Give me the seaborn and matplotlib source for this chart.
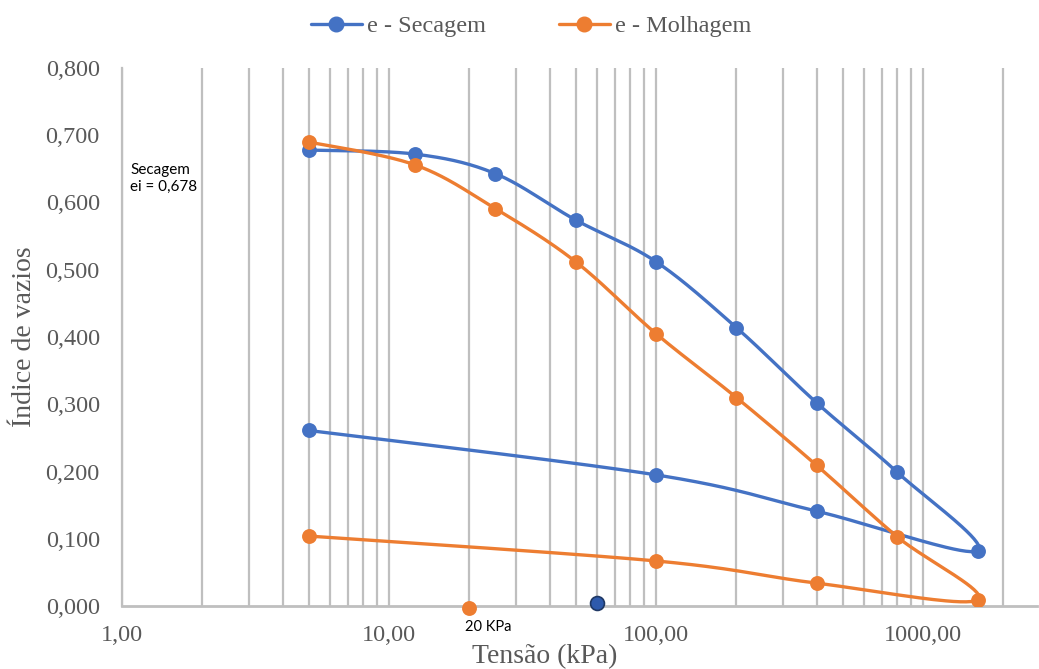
import numpy as np
import pandas as pd
import seaborn as sns
import matplotlib.pyplot as plt
from matplotlib.lines import Line2D
from matplotlib.ticker import FixedLocator, LogLocator, NullFormatter

# Tensão aplicada (kPa): carregamento seguido de descarregamento
tensao = [5, 12.5, 25, 50, 100, 200, 400, 800, 1600, 400, 100, 5]
e_secagem = [0.678, 0.672, 0.643, 0.574, 0.512, 0.414, 0.302, 0.199, 0.082, 0.141, 0.195, 0.261]
e_molhagem = [0.690, 0.656, 0.591, 0.512, 0.405, 0.310, 0.209, 0.103, 0.009, 0.034, 0.067, 0.104]

# Pontos isolados de referência
ref_molh_tensao = [20]
ref_molh_e = [-0.003]
ref_sec_tensao = [60]
ref_sec_e = [0.004]

y_ticks = [0.0, 0.1, 0.2, 0.3, 0.4, 0.5, 0.6, 0.7, 0.8]
x_ticks = [1, 10, 100, 1000]

AZUL = "#4472C4"
LARANJA = "#ED7D31"
CINZA_TXT = "#595959"
CINZA_GRADE = "#BFBFBF"

sns.set_theme(style="white")
plt.rcParams["font.family"] = ["Liberation Serif", "DejaVu Serif"]

W, H = 1039, 669
fig = plt.figure(figsize=(W / 100, H / 100), dpi=100)
ax = fig.add_axes([122 / W, 63 / H, (1037 - 122) / W, 538 / H])

# escala aproximada (px por década / px por unidade) para suavizar em espaço visual
SX, SY = 267.0, 672.5


def suavizar(x, y, n=40):
    """Curva suavizada tipo Bezier (Catmull-Rom) em espaço log-x."""
    u = np.log10(np.asarray(x, float)) * SX
    v = np.asarray(y, float) * SY
    P = np.column_stack([u, v])
    m = len(P)
    partes = []
    t = np.linspace(0, 1, n)[:, None]
    for i in range(m - 1):
        p0 = P[i - 1] if i > 0 else P[i]
        p1, p2 = P[i], P[i + 1]
        p3 = P[i + 2] if i + 2 < m else P[i + 1]
        c1 = p1 + (p2 - p0) / 6
        c2 = p2 - (p3 - p1) / 6
        seg = (1 - t) ** 3 * p1 + 3 * (1 - t) ** 2 * t * c1 + 3 * (1 - t) * t ** 2 * c2 + t ** 3 * p2
        partes.append(seg if i == 0 else seg[1:])
    S = np.vstack(partes)
    return 10 ** (S[:, 0] / SX), S[:, 1] / SY


for e_vals, cor in [(e_secagem, AZUL), (e_molhagem, LARANJA)]:
    xs, ys = suavizar(tensao, e_vals)
    curva = pd.DataFrame({"x": xs, "y": ys})
    sns.lineplot(data=curva, x="x", y="y", sort=False, estimator=None,
                 color=cor, lw=2.4, ax=ax, zorder=3)
    sns.scatterplot(x=tensao, y=e_vals, color=cor, s=115, edgecolor=cor,
                    linewidth=0, ax=ax, zorder=4)

sns.scatterplot(x=ref_molh_tensao, y=ref_molh_e, color=LARANJA, s=115,
                edgecolor=LARANJA, linewidth=0, ax=ax, zorder=5, clip_on=False)
sns.scatterplot(x=ref_sec_tensao, y=ref_sec_e, color="#2E5AAC", s=100,
                edgecolor="#1F3864", linewidth=1.2, ax=ax, zorder=5, clip_on=False)

ax.set_xscale("log")
ax.set_xlim(1, 10 ** ((1037 - 122) / SX))
ax.set_ylim(0, 0.8)

ax.xaxis.set_major_locator(FixedLocator(x_ticks))
ax.xaxis.set_minor_locator(LogLocator(base=10, subs=np.arange(2, 10)))
ax.xaxis.set_minor_formatter(NullFormatter())
ax.set_xticklabels([f"{v:.2f}".replace(".", ",") for v in x_ticks])
ax.set_yticks(y_ticks)
ax.set_yticklabels([f"{v:.3f}".replace(".", ",") for v in y_ticks])

ax.tick_params(axis="both", which="both", length=0, labelsize=17.5, colors=CINZA_TXT)
ax.tick_params(axis="y", pad=16)
ax.tick_params(axis="x", pad=14)

ax.grid(False)
ax.xaxis.grid(True, which="both", color=CINZA_GRADE, lw=1.6, zorder=0)
for lado in ["top", "right"]:
    ax.spines[lado].set_visible(False)
ax.spines["left"].set_color(CINZA_GRADE)
ax.spines["left"].set_linewidth(1.6)
ax.spines["bottom"].set_color(CINZA_GRADE)
ax.spines["bottom"].set_linewidth(2)

ax.set_xlabel("Tensão (kPa)", fontsize=20, color=CINZA_TXT)
ax.set_ylabel("Índice de vazios", fontsize=20, color=CINZA_TXT)
ax.xaxis.set_label_coords((545 - 122) / 915, (606 - 657) / 538)
ax.yaxis.set_label_coords((25 - 122) / 915, 0.5)
ax.xaxis.label.set_va("center")
ax.yaxis.label.set_va("center")

sans = ["Lato", "DejaVu Sans"]
ax.text(8 / 915, (606 - 163) / 538, "Secagem\nei = 0,678", transform=ax.transAxes,
        ha="left", va="top", fontsize=11, family=sans, color="#000000", linespacing=1.3)
ax.annotate("20 KPa", xy=(20, 0), xytext=(-3, -10), textcoords="offset points",
            ha="left", va="top", fontsize=10.5, family=sans, color="#000000")

handles = [
    Line2D([], [], color=AZUL, lw=2.4, marker="o", markersize=10.5, label="e - Secagem"),
    Line2D([], [], color=LARANJA, lw=2.4, marker="o", markersize=10.5, label="e - Molhagem"),
]
fig.legend(handles=handles, loc="center", bbox_to_anchor=(531 / W, 1 - 26 / H), ncol=2,
           frameon=False, fontsize=17.5, handlelength=2.1, handletextpad=0.2,
           columnspacing=3.0, labelcolor=CINZA_TXT)

fig.savefig("out.png", dpi=100)
